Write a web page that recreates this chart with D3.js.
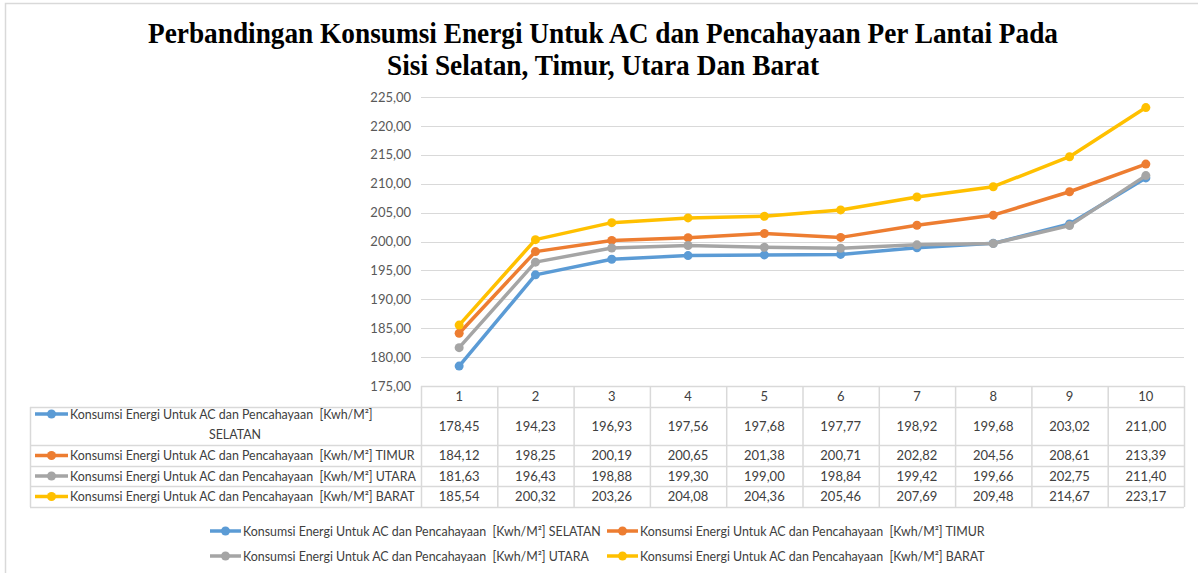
<!DOCTYPE html>
<html>
<head>
<meta charset="utf-8">
<script src="https://cdn.jsdelivr.net/npm/d3@7"></script>
<style>
  body { margin: 0; background: #fff; }
  svg { display: block; }
  text { font-family: Lato, "Liberation Sans", sans-serif; }
</style>
</head>
<body>
<svg id="chart" width="1198" height="573"></svg>
<script>
const floors = ['1', '2', '3', '4', '5', '6', '7', '8', '9', '10'];
const selatan = [178.45, 194.23, 196.93, 197.56, 197.68, 197.77, 198.92, 199.68, 203.02, 211.00];
const timur = [184.12, 198.25, 200.19, 200.65, 201.38, 200.71, 202.82, 204.56, 208.61, 213.39];
const utara = [181.63, 196.43, 198.88, 199.30, 199.00, 198.84, 199.42, 199.66, 202.75, 211.40];
const barat = [185.54, 200.32, 203.26, 204.08, 204.36, 205.46, 207.69, 209.48, 214.67, 223.17];
const yTicks = [175, 180, 185, 190, 195, 200, 205, 210, 215, 220, 225];
const seriesNames = ['SELATAN', 'TIMUR', 'UTARA', 'BARAT'];
const labelBase = 'Konsumsi Energi Untuk AC dan Pencahayaan  [Kwh/M²]';
const titleLines = [
  'Perbandingan Konsumsi Energi Untuk AC dan Pencahayaan Per Lantai Pada',
  'Sisi Selatan, Timur, Utara Dan Barat'
];

const colors = ['#5B9BD5', '#ED7D31', '#A5A5A5', '#FFC000'];
const series = [selatan, timur, utara, barat].map((values, i) => ({
  name: seriesNames[i], values, color: colors[i]
}));

const svg = d3.select('#chart');
const fmt = v => d3.format('.2f')(v).replace('.', ',');
const labelSize = '12.4px';

const plot = { left: 421, right: 1184, top: 97, bottom: 386 };
const x = d3.scaleBand().domain(floors).range([plot.left, plot.right]);
const y = d3.scaleLinear().domain([175, 225]).range([plot.bottom, plot.top]);

// outer frame
svg.append('rect')
  .attr('x', 5.5).attr('y', 3.5).attr('width', 1200).attr('height', 580)
  .attr('fill', 'none').attr('stroke', '#d9d9d9').attr('stroke-width', 1.5);

// title
svg.append('g').selectAll('text').data(titleLines).join('text')
  .attr('x', 603).attr('y', (d, i) => 43 + i * 32)
  .attr('text-anchor', 'middle')
  .attr('textLength', (d, i) => i === 0 ? 910 : 432)
  .attr('lengthAdjust', 'spacingAndGlyphs')
  .style('font-family', '"Liberation Serif", "Times New Roman", serif')
  .style('font-weight', 'bold').style('font-size', '29px').style('fill', '#000')
  .text(d => d);

// gridlines
svg.append('g').selectAll('line').data(yTicks.slice(1)).join('line')
  .attr('x1', plot.left).attr('x2', plot.right)
  .attr('y1', d => Math.round(y(d)) + 0.5).attr('y2', d => Math.round(y(d)) + 0.5)
  .attr('stroke', '#d9d9d9').attr('stroke-width', 1);

// y axis labels
const yAxis = d3.axisLeft(y).tickValues(yTicks).tickFormat(fmt).tickSize(0).tickPadding(10);
const ya = svg.append('g').attr('transform', `translate(${plot.left},0)`).call(yAxis);
ya.select('.domain').remove();
ya.selectAll('text').style('font-size', '13px').style('fill', '#595959')
  .style('font-family', 'Lato, "Liberation Sans", sans-serif');

// lines + markers
const line = d3.line().x((d, i) => x(floors[i]) + x.bandwidth() / 2).y(d => y(d));
const sg = svg.append('g').selectAll('g').data(series).join('g');
sg.append('path')
  .attr('d', d => line(d.values))
  .attr('fill', 'none').attr('stroke', d => d.color)
  .attr('stroke-width', 3.5).attr('stroke-linejoin', 'round');
sg.selectAll('circle').data(d => d.values.map(v => ({ v, c: d.color }))).join('circle')
  .attr('cx', (d, i) => x(floors[i]) + x.bandwidth() / 2)
  .attr('cy', d => y(d.v)).attr('r', 4.5).attr('fill', d => d.c);

// data table
const tableLeft = 30;
const rowEdges = [386, 407, 445, 466, 486, 507];
const grid = '#d9d9d9';
const tg = svg.append('g');

rowEdges.forEach((ry, i) => {
  tg.append('line')
    .attr('x1', i === 0 ? plot.left : tableLeft).attr('x2', plot.right)
    .attr('y1', ry + 0.5).attr('y2', ry + 0.5)
    .attr('stroke', grid).attr('stroke-width', 1.5);
});
const vx = floors.map(f => x(f)).concat([plot.right]);
vx.forEach(px => {
  tg.append('line').attr('x1', px + 0.5).attr('x2', px + 0.5)
    .attr('y1', rowEdges[0]).attr('y2', rowEdges[5])
    .attr('stroke', grid).attr('stroke-width', 1.5);
});
tg.append('line').attr('x1', tableLeft + 0.5).attr('x2', tableLeft + 0.5)
  .attr('y1', rowEdges[1]).attr('y2', rowEdges[5])
  .attr('stroke', grid).attr('stroke-width', 1.5);

tg.selectAll('.hdr').data(floors).join('text').attr('class', 'hdr')
  .attr('x', d => x(d) + x.bandwidth() / 2).attr('y', 401)
  .attr('text-anchor', 'middle').style('font-size', '13px').style('fill', '#404040')
  .text(d => d);

series.forEach((s, r) => {
  const cy = (rowEdges[r + 1] + rowEdges[r + 2]) / 2 + 4.5;
  tg.append('g').selectAll('text').data(s.values).join('text')
    .attr('x', (d, i) => x(floors[i]) + x.bandwidth() / 2).attr('y', cy)
    .attr('text-anchor', 'middle').style('font-size', '13px').style('fill', '#404040')
    .text(fmt);

  const ky = r === 0 ? 414 : cy - 4.5;
  tg.append('line').attr('x1', 35).attr('x2', 68).attr('y1', ky).attr('y2', ky)
    .attr('stroke', s.color).attr('stroke-width', 3.5);
  tg.append('circle').attr('cx', 51.5).attr('cy', ky).attr('r', 4.5).attr('fill', s.color);

  if (r === 0) {
    tg.append('text').attr('x', 70).attr('y', 418.5)
      .attr('xml:space', 'preserve').style('white-space', 'pre')
      .style('font-size', labelSize).style('fill', '#404040').text(labelBase);
    tg.append('text').attr('x', 235).attr('y', 438.5).attr('text-anchor', 'middle')
      .style('font-size', labelSize).style('fill', '#404040').text(s.name);
  } else {
    tg.append('text').attr('x', 70).attr('y', cy)
      .attr('xml:space', 'preserve').style('white-space', 'pre')
      .style('font-size', labelSize).style('fill', '#404040')
      .text(labelBase + ' ' + s.name);
  }
});

// legend
const legendPos = [[210, 531], [607, 531], [210, 556], [607, 556]];
const lg = svg.append('g').selectAll('g').data(series).join('g')
  .attr('transform', (d, i) => `translate(${legendPos[i][0]},${legendPos[i][1]})`);
lg.append('line').attr('x1', 0).attr('x2', 31).attr('y1', 0).attr('y2', 0)
  .attr('stroke', d => d.color).attr('stroke-width', 3.5);
lg.append('circle').attr('cx', 15.5).attr('cy', 0).attr('r', 4.5).attr('fill', d => d.color);
lg.append('text').attr('x', 33).attr('y', 4.5)
  .attr('xml:space', 'preserve').style('white-space', 'pre')
  .style('font-size', labelSize).style('fill', '#404040')
  .text(d => labelBase + ' ' + d.name);
</script>
</body>
</html>
